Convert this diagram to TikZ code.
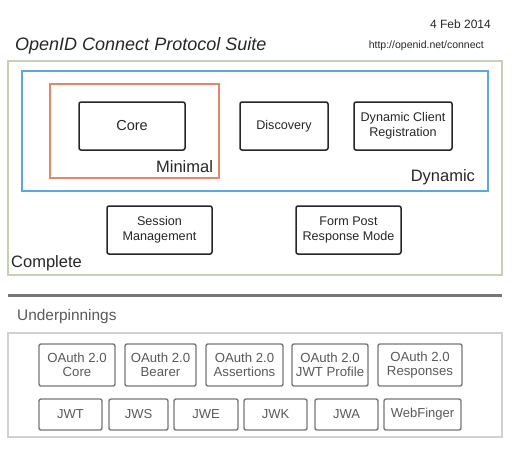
\documentclass[tikz,border=0pt]{standalone}
\usepackage{fontspec}
\setmainfont{Liberation Sans}
\usepackage{tikz}
\usetikzlibrary{positioning}
\definecolor{suitegreen}{HTML}{C5D2B2}
\definecolor{suiteblue}{HTML}{5AA8DF}
\definecolor{suiteorange}{HTML}{E5866A}
\definecolor{undergray}{HTML}{767676}
\definecolor{underlight}{HTML}{D0D0D0}

\begin{document}
\begin{tikzpicture}[
		x=1pt, y=-1pt,
		spec/.style={draw=black!85, line width=1.5pt, rounded corners=2pt, inner sep=0pt,
			align=center, minimum height=48pt, text=black!85},
		basis/.style={draw=undergray, line width=1.4pt, rounded corners=2pt, inner sep=0pt,
			align=center, text=black!65, font=\fontsize{13.2}{14}\selectfont},
		group/.style={draw, inner sep=0pt, line width=2.3pt},
		tag/.style={inner sep=0pt, font=\fontsize{16.5}{18}\selectfont, text=black!85}]

		\useasboundingbox (0,0) rectangle (524,451);

		% heading
		\node[anchor=base west, inner sep=0pt, font=\fontsize{18}{20}\selectfont\itshape, text=black!85] (title) at (15,50) {OpenID Connect Protocol Suite};
		\node[anchor=base east, inner sep=0pt, font=\fontsize{12}{13}\selectfont, text=black!85] (date) at (491,28) {4 Feb 2014};
		\node[anchor=base east, inner sep=0pt, font=\fontsize{10.5}{12}\selectfont, text=black!85] (url) at (484,48) {http://openid.net/connect};

		% groups
		\node[group, draw=suitegreen, line width=2pt, minimum width=494pt, minimum height=214pt] (complete) at (255,168) {};
		\node[group, draw=suiteblue, minimum width=466pt, minimum height=120pt] (dynamic) at (255,131) {};
		\node[group, draw=suiteorange, minimum width=169pt, minimum height=94pt] (minimal) at (134.5,131) {};

		\node[tag, anchor=south east, xshift=-7pt, yshift=6pt] (minlabel) at (minimal.south east) {Minimal};
		\node[tag, anchor=south east, xshift=-14pt, yshift=7pt] (dynlabel) at (dynamic.south east) {Dynamic};
		\node[tag, anchor=south west, xshift=4pt, yshift=5pt] (comlabel) at (complete.south west) {Complete};

		% specs
		\node[spec, minimum width=106pt, font=\fontsize{14.5}{16}\selectfont] (core) at (132,126) {Core};
		\node[spec, minimum width=88pt, font=\fontsize{12.6}{15}\selectfont] (disc) at (284,126) {Discovery};
		\node[spec, minimum width=98pt, font=\fontsize{12.6}{15}\selectfont] (reg) at (403,126) {Dynamic Client\\Registration};
		\node[spec, minimum width=105pt, font=\fontsize{12.6}{15}\selectfont] (session) at (159.5,230) {Session\\Management};
		\node[spec, minimum width=105pt, font=\fontsize{12.6}{15}\selectfont] (formpost) at (348.5,230) {Form Post\\Response Mode};

		% underpinnings
		\coordinate (rulel) at (8,295);
		\coordinate (ruler) at (502,295);
		\draw[undergray, line width=3pt] (rulel) -- (ruler);
		\node[anchor=base west, inner sep=0pt, font=\fontsize{15.4}{17}\selectfont, text=black!65] (ulabel) at (17,320) {Underpinnings};
		\node[group, draw=underlight, line width=2pt, minimum width=494pt, minimum height=104pt] (under) at (255,385) {};

		\node[basis, minimum width=76pt, minimum height=42pt] (oacore) at (77,365) {OAuth 2.0\\Core};
		\node[basis, minimum width=71pt, minimum height=42pt] (oabearer) at (160.5,365) {OAuth 2.0\\Bearer};
		\node[basis, minimum width=77pt, minimum height=42pt] (oaassert) at (244.5,365) {OAuth 2.0\\Assertions};
		\node[basis, minimum width=76pt, minimum height=42pt] (oajwt) at (330,365) {OAuth 2.0\\JWT Profile};
		\node[basis, minimum width=84pt, minimum height=42pt] (oaresp) at (420,365) {OAuth 2.0\\Responses};

		\node[basis, minimum width=63pt, minimum height=31pt, font=\fontsize{13}{14}\selectfont] (jwt) at (70.5,414.5) {JWT};
		\node[basis, minimum width=59pt, minimum height=31pt, font=\fontsize{13}{14}\selectfont] (jws) at (138.5,414.5) {JWS};
		\node[basis, minimum width=64pt, minimum height=31pt, font=\fontsize{13}{14}\selectfont] (jwe) at (206,414.5) {JWE};
		\node[basis, minimum width=63pt, minimum height=31pt, font=\fontsize{13}{14}\selectfont] (jwk) at (275.5,414.5) {JWK};
		\node[basis, minimum width=63pt, minimum height=31pt, font=\fontsize{13}{14}\selectfont] (jwa) at (346.5,414.5) {JWA};
		\node[basis, minimum width=77pt, minimum height=31pt, font=\fontsize{13}{14}\selectfont] (finger) at (422.5,414.5) {WebFinger};

\end{tikzpicture}
\end{document}
